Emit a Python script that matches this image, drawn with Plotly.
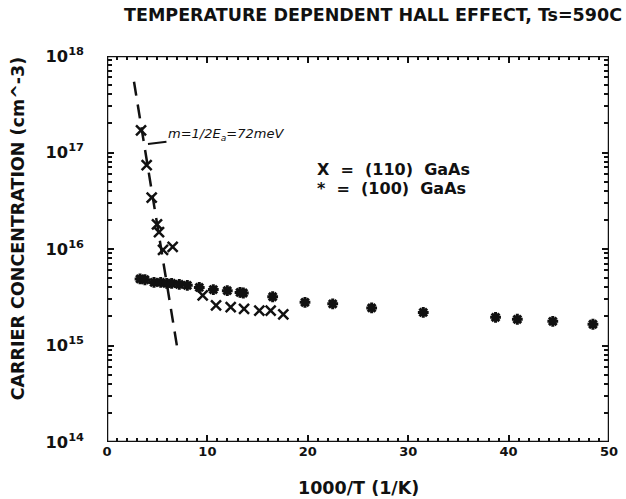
import plotly.graph_objects as go
from plotly.subplots import make_subplots

# (110) GaAs — carrier concentration vs 1000/T
x110 = [3.39, 3.95, 4.45, 4.98, 5.18, 5.58, 6.54, 9.53, 10.86, 12.32, 13.65, 15.17, 16.3, 17.56]
n110 = [1.7e17, 7.4e16, 3.4e16, 1.8e16, 1.5e16, 9.8e15, 1.05e16, 3.3e15, 2.6e15, 2.5e15,
        2.4e15, 2.3e15, 2.3e15, 2.1e15]

# (100) GaAs — carrier concentration vs 1000/T
x100 = [3.29, 3.78, 4.68, 5.35, 5.95, 6.44, 7.2, 8.0, 9.19, 10.59, 11.98, 13.25, 13.58, 16.5,
        19.72, 22.48, 26.36, 31.5, 38.7, 40.87, 44.4, 48.4]
n100 = [4.9e15, 4.8e15, 4.5e15, 4.5e15, 4.4e15, 4.4e15, 4.3e15, 4.2e15, 4.0e15, 3.8e15, 3.7e15,
        3.55e15, 3.5e15, 3.2e15, 2.8e15, 2.7e15, 2.45e15, 2.2e15, 1.96e15, 1.87e15, 1.78e15, 1.66e15]

# activation fit line end points
fit_x = [2.69, 7.07]
fit_n = [5.4e17, 8.5e14]

X_RANGE = [0, 50]
LOG_RANGE = [14, 18]

FONT = "DejaVu Sans"
INK = "#111111"

fig = make_subplots(rows=1, cols=1)

# axes box, traced along the axis limits
x_lo, x_hi = X_RANGE
y_lo, y_hi = 10.0 ** LOG_RANGE[0], 10.0 ** LOG_RANGE[1]
fig.add_trace(go.Scatter(x=[x_lo, x_hi, x_hi, x_lo, x_lo], y=[y_lo, y_lo, y_hi, y_hi, y_lo],
                         mode="lines", line=dict(color=INK, width=2.5), cliponaxis=False,
                         showlegend=False, hoverinfo="skip"))
fig.add_trace(go.Scatter(x=fit_x, y=fit_n, mode="lines",
                         line=dict(color=INK, width=2.5, dash="14px,9px"),
                         showlegend=False, hoverinfo="skip"))
fig.add_trace(go.Scatter(x=x110, y=n110, mode="markers", name="(110) GaAs",
                         marker=dict(symbol="x-thin-open", size=10, color=INK,
                                     line=dict(color=INK, width=2.5)),
                         showlegend=False))
fig.add_trace(go.Scatter(x=x100, y=n100, mode="markers", name="(100) GaAs",
                         marker=dict(symbol="asterisk-open", size=9, color=INK,
                                     line=dict(color=INK, width=3)),
                         showlegend=False))

# inward ticks on all four sides (mirrored)
tick_style = dict(showline=False, mirror="allticks", ticks="inside", tickcolor=INK,
                  tickwidth=2, ticklen=7, showgrid=False, zeroline=False,
                  tickfont=dict(family=FONT, size=13, color=INK, weight="bold"))
x_minor = dict(tickmode="linear", tick0=0, dtick=1, ticks="inside", ticklen=4,
               tickcolor=INK, tickwidth=1.5, showgrid=False)
y_minor = dict(dtick="D1", ticks="inside", ticklen=5, tickcolor=INK,
               tickwidth=1.5, showgrid=False)

fig.update_xaxes(range=X_RANGE, tickmode="linear", tick0=0, dtick=10, minor=x_minor,
                 **tick_style)
fig.update_yaxes(type="log", range=LOG_RANGE, tickmode="linear", tick0=0, dtick=1,
                 exponentformat="power", ticklabelstandoff=22, minor=y_minor, **tick_style)

bold = dict(family=FONT, size=17.5, color=INK, weight="bold")
legend_font = dict(family=FONT, size=16, color=INK, weight="bold")
annotations = [
    dict(text="TEMPERATURE DEPENDENT HALL EFFECT, Ts=590C", xref="paper", yref="paper",
         x=0.53, y=1.106, xanchor="center", yanchor="middle", showarrow=False,
         font=dict(family=FONT, size=17.5, color=INK, weight="bold")),
    dict(text="CARRIER CONCENTRATION (cm^-3)", xref="paper", yref="paper", textangle=-90,
         x=-0.177, y=0.554, xanchor="center", yanchor="middle", showarrow=False, font=bold),
    dict(text="1000/T (1/K)", xref="paper", yref="paper", x=0.5, y=-0.119,
         xanchor="center", yanchor="middle", showarrow=False, font=bold),
    dict(text="X  =  (110)  GaAs", xref="paper", yref="paper", x=0.414, y=0.705,
         xanchor="left", yanchor="middle", showarrow=False, font=legend_font),
    dict(text="*  =  (100)  GaAs", xref="paper", yref="paper", x=0.414, y=0.658,
         xanchor="left", yanchor="middle", showarrow=False, font=legend_font),
    dict(text="m=1/2E<sub>a</sub>=72meV", x=4.08, y=17.088, xref="x", yref="y",
         ax=78, ay=-10, showarrow=True, arrowhead=0, arrowwidth=2, arrowcolor=INK,
         font=dict(family=FONT, size=13, color=INK, style="italic")),
]

fig.update_layout(template="none", width=626, height=499,
                  margin=dict(l=107, r=17, t=56, b=57), annotations=annotations,
                  showlegend=False)

fig.write_html("out.html")
